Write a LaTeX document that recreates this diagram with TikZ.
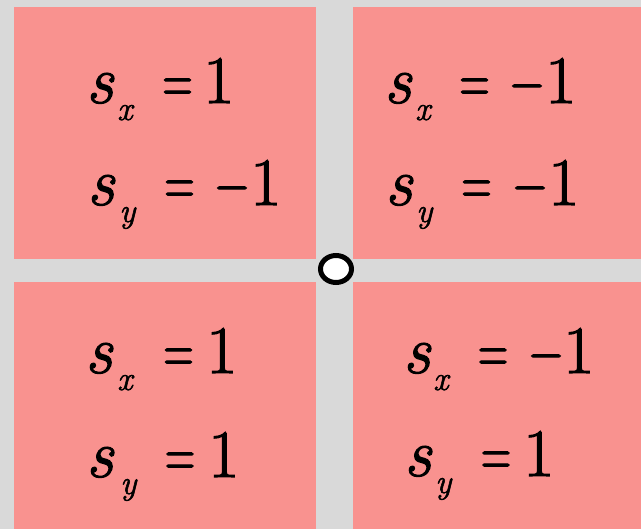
\documentclass[tikz,border=0pt]{standalone}
\usepackage{fontspec}
\usepackage{graphicx}
\newfontfamily\eqfont[FakeBold=1.6]{Latin Modern Roman}
\definecolor{bggray}{RGB}{217,217,217}
\definecolor{pinkbox}{RGB}{249,146,143}
\tikzset{
  quad/.style={fill=pinkbox,draw=none},
  txt/.style={anchor=base west,inner sep=0pt,font=\eqfont\fontsize{68}{68}\selectfont},
  opr/.style={anchor=base,inner sep=0pt,font=\eqfont\fontsize{68}{68}\selectfont},
  subtxt/.style={anchor=base west,inner sep=0pt,font=\eqfont\fontsize{34}{34}\selectfont\itshape},
  origin/.style={draw=black,line width=5pt,fill=white}
}
% name, baseline, s x, sub x, sub char, = centre, 1 x
\newcommand\eqrow[7]{%
  \node[txt] (#1s) at (#3-3,#2) {\itshape s};
  \node[subtxt] (#1b) at (#4,#2+17) {#5};
  \node[opr] (#1e) at (#6,#2) {\scalebox{0.62}[1]{=}};
  \node[txt] (#1v) at (#7-7,#2) {1};
}
\newcommand\minusat[3]{%
  \node[opr] (#1m) at (#3,#2) {\scalebox{0.68}[1]{−}};
}
\begin{document}
\begin{tikzpicture}[x=1pt,y=-1pt]
\useasboundingbox (0,0) rectangle (641,529);
\fill[bggray] (0,0) rectangle (641,529);
\fill[quad] (14,7) rectangle (316,259);
\fill[quad] (353,7) rectangle (641,259);
\fill[quad] (14,282) rectangle (316,529);
\fill[quad] (353,282) rectangle (641,529);
\eqrow{tla}{103}{89}{117}{x}{177.5}{210}
\eqrow{tlb}{205}{90}{119}{y}{179.5}{257}
\minusat{tlb}{205}{232}
\eqrow{tra}{103}{387}{415}{x}{474.5}{552}
\minusat{tra}{103}{527}
\eqrow{trb}{205}{388}{416}{y}{476.5}{555}
\minusat{trb}{205}{530}
\eqrow{bla}{373}{88}{117}{x}{178.5}{213}
\eqrow{blb}{477}{89}{120}{y}{180}{215}
\eqrow{bra}{373}{406}{433}{x}{493}{570}
\minusat{bra}{373}{546}
\eqrow{brb}{476}{407}{435}{y}{496}{530}
\draw[origin] (336,269) ellipse [x radius=15.5, y radius=13.5];
\end{tikzpicture}
\end{document}
